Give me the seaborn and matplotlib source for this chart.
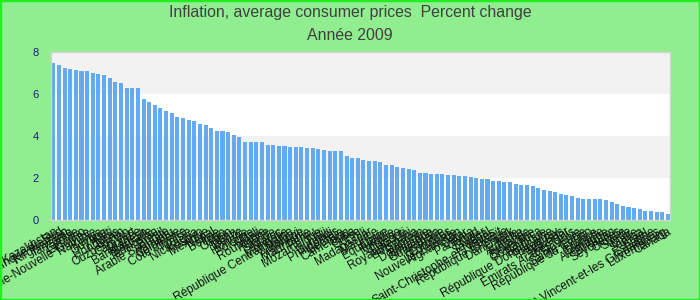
import matplotlib
matplotlib.use("Agg")
import matplotlib.pyplot as plt
import seaborn as sns
import pandas as pd
from matplotlib.patches import Rectangle

countries = [
    "Kazakhstan", "Afrique du Sud", "Kirghizistan", "Tanzanie", "Zambie",
    "Lesotho", "Papouasie-Nouvelle-Guinée", "Namibie", "Kenya", "Guyana",
    "Haïti", "Honduras", "Bénin", "Ouzbékistan", "Cap-Vert",
    "Guinée", "Bangladesh", "Barbade", "Tadjikistan", "Brésil",
    "Arabie Saoudite", "Vanuatu", "Colombie", "Côte d'Ivoire", "Tunisie",
    "Nicaragua", "Kosovo", "Mexique", "Népal", "Bolivie",
    "Togo", "Gabon", "Liban", "Belize", "Hongrie",
    "Pologne", "Mali", "Roumanie", "Algérie", "Islande",
    "Maroc", "Mongolie", "République Centrafricaine", "Malawi", "Argentine",
    "Mauritanie", "Pérou", "Mozambique", "Fidji", "Burundi",
    "Philippines", "Géorgie", "Cameroun", "Cuba", "Grèce",
    "Chili", "Madagascar", "Maurice", "Équateur", "Corée",
    "Turquie", "Norvège", "Djibouti", "Royaume-Uni", "Botswana",
    "Bahreïn", "Dominique", "Jamaïque", "Guatemala", "Australie",
    "Comores", "Nouvelle-Zélande", "Afghanistan", "Qatar", "Panama",
    "Tchad", "Niger", "Sénégal", "Saint-Christophe-et-Niévès", "Koweït",
    "République tchèque", "Danemark", "Italie", "Autriche", "Finlande",
    "Slovaquie", "Costa Rica", "Belgique", "République Dominicaine", "Paraguay",
    "Pays-Bas", "Salvador", "Emirats Arabes Unis", "Slovénie", "Sainte-Lucie",
    "République du Congo", "France", "Grenade", "Allemagne", "Bhoutan",
    "Seychelles", "Croatie", "Suède", "Malte", "Samoa",
    "Israël", "Espagne", "Saint-Vincent-et-les Grenadines", "Luxembourg", "Canada",
]

values = [
    7.46, 7.37, 7.23, 7.18, 7.13, 7.08, 7.08, 6.99, 6.94, 6.89,
    6.75, 6.56, 6.51, 6.28, 6.28, 6.28, 5.75, 5.61, 5.47, 5.32,
    5.18, 5.09, 4.90, 4.85, 4.75, 4.71, 4.56, 4.52, 4.37, 4.23,
    4.23, 4.18, 4.04, 3.95, 3.71, 3.71, 3.71, 3.71, 3.57, 3.57,
    3.52, 3.52, 3.47, 3.47, 3.47, 3.42, 3.42, 3.38, 3.33, 3.28,
    3.28, 3.28, 3.04, 2.95, 2.95, 2.85, 2.80, 2.80, 2.76, 2.61,
    2.61, 2.52, 2.47, 2.42, 2.38, 2.23, 2.23, 2.19, 2.19, 2.19,
    2.14, 2.14, 2.09, 2.09, 2.04, 2.00, 1.95, 1.95, 1.85, 1.85,
    1.81, 1.81, 1.71, 1.66, 1.66, 1.62, 1.52, 1.43, 1.38, 1.33,
    1.24, 1.19, 1.14, 1.05, 1.00, 1.00, 1.00, 1.00, 0.95, 0.86,
    0.76, 0.67, 0.62, 0.57, 0.52, 0.43, 0.43, 0.38, 0.38, 0.29,
]

yticks = [0, 2, 4, 6, 8]
title_line1 = "Inflation, average consumer prices  Percent change"
title_line2 = "Année 2009"

df = pd.DataFrame({"pays": countries, "valeur": values})

plt.rcParams["font.family"] = ["Liberation Sans", "DejaVu Sans"]

fig = plt.figure(figsize=(7, 3), dpi=100, facecolor="#90ee90")
ax = fig.add_axes([51 / 700, 80 / 300, 619 / 700, 168.3 / 300])
ax.set_facecolor("white")

for lo in (2, 6):
    ax.axhspan(lo, lo + 2, color="#f2f2f2", zorder=0, lw=0)

sns.barplot(data=df, x="pays", y="valeur", color="#64aaf0", saturation=1,
            width=0.72, ax=ax, zorder=2)

ax.set_xlim(-0.41, len(values) - 1 + 0.36)
ax.set_ylim(0, 8)
ax.set_yticks(yticks)
ax.set_yticklabels([str(t) for t in yticks], color="#1a1a80", fontsize=8)
ax.tick_params(axis="y", length=0, pad=9)
ax.tick_params(axis="x", length=0, pad=4)
plt.setp(ax.get_xticklabels(), rotation=30, ha="right", rotation_mode="anchor",
         fontsize=8.5, color="#111111")
ax.set_xlabel("")
ax.set_ylabel("")
for s in ax.spines.values():
    s.set_color("#d4d4d4")
    s.set_linewidth(1)

fig.text(0.5, 1 - 12 / 300, title_line1, ha="center", va="center",
         fontsize=11.4, color="#404040")
fig.text(0.5, 1 - 36 / 300, title_line2, ha="center", va="center",
         fontsize=11.4, color="#404040")

fig.patches.append(Rectangle((0, 0), 1, 1, transform=fig.transFigure,
                             fill=False, edgecolor="#22ee22", linewidth=2.5))

fig.savefig("out.png", dpi=100, facecolor=fig.get_facecolor())
